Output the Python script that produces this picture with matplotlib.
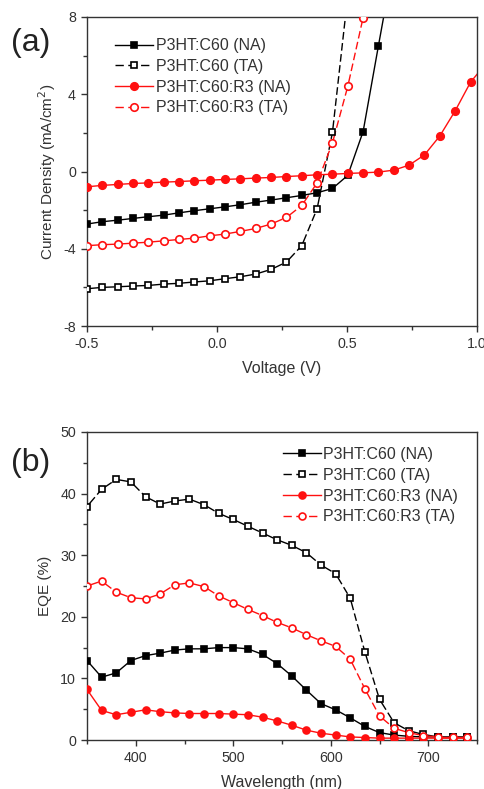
import matplotlib
matplotlib.use("Agg")
import matplotlib.pyplot as plt
from matplotlib.ticker import MultipleLocator
from matplotlib.lines import Line2D

plt.rcParams['font.family'] = ['Liberation Sans', 'DejaVu Sans']

# ---------------- Panel (a): J-V ----------------
voltage = [-0.5, -0.441, -0.382, -0.323, -0.264, -0.205, -0.146, -0.087, -0.028,
           0.031, 0.09, 0.149, 0.208, 0.267, 0.326, 0.385, 0.444, 0.503, 0.562,
           0.621, 0.68, 0.739, 0.798, 0.857, 0.916, 0.975, 1.034]

jv_c60_na = [-2.72, -2.60, -2.52, -2.43, -2.34, -2.26, -2.14, -2.03, -1.93, -1.83,
             -1.72, -1.59, -1.48, -1.36, -1.24, -1.10, -0.88, -0.20, 2.07, 6.52, 10.9]
jv_c60_ta = [-6.07, -6.00, -5.97, -5.93, -5.90, -5.83, -5.79, -5.72, -5.66, -5.55,
             -5.45, -5.31, -5.07, -4.69, -3.84, -1.93, 2.02, 9.1]
jv_r3_na = [-0.79, -0.72, -0.67, -0.62, -0.59, -0.55, -0.52, -0.48, -0.45, -0.41,
            -0.38, -0.34, -0.31, -0.26, -0.22, -0.17, -0.14, -0.10, -0.07, -0.03,
            0.07, 0.33, 0.86, 1.84, 3.14, 4.62, 5.59]
jv_r3_ta = [-3.84, -3.79, -3.76, -3.71, -3.66, -3.59, -3.52, -3.45, -3.33, -3.24,
            -3.10, -2.95, -2.72, -2.38, -1.76, -0.59, 1.48, 4.41, 7.97, 12.0]

# ---------------- Panel (b): EQE ----------------
wavelength = [350, 365, 380, 395, 410, 425, 440, 455, 470, 485, 500, 515, 530, 545,
              560, 575, 590, 605, 620, 635, 650, 665, 680, 695, 710, 725, 740]
eqe_c60_na = [12.9, 10.2, 10.9, 12.9, 13.7, 14.1, 14.6, 14.8, 14.8, 15.0, 15.0, 14.8,
              13.9, 12.4, 10.4, 8.1, 5.9, 4.9, 3.6, 2.2, 1.2, 0.8, 0.6, 0.5, 0.5, 0.5, 0.5]
eqe_c60_ta = [37.9, 40.7, 42.3, 41.9, 39.5, 38.3, 38.8, 39.1, 38.2, 36.8, 35.8, 34.7,
              33.6, 32.5, 31.6, 30.4, 28.4, 27.0, 23.0, 14.3, 6.6, 2.8, 1.5, 0.9, 0.5, 0.5, 0.5]
eqe_r3_na = [8.2, 4.8, 4.1, 4.5, 4.9, 4.6, 4.4, 4.3, 4.3, 4.3, 4.2, 4.1, 3.7, 3.1,
             2.4, 1.6, 1.1, 0.8, 0.5, 0.4, 0.3, 0.3, 0.3, 0.3, 0.3, 0.3, 0.3]
eqe_r3_ta = [25.0, 25.8, 24.0, 23.1, 22.9, 23.7, 25.2, 25.5, 24.9, 23.4, 22.3, 21.2,
             20.2, 19.1, 18.2, 17.1, 16.1, 15.2, 13.1, 8.3, 3.9, 1.9, 1.2, 0.7, 0.5, 0.5, 0.5]

labels = ['P3HT:C60 (NA)', 'P3HT:C60 (TA)', 'P3HT:C60:R3 (NA)', 'P3HT:C60:R3 (TA)']

RED = '#ff1010'
TXT = '#333333'
# long first dash so short segments look solid, then regular dashes
SEG_DASH = (0, (8.8, 2.5) + (5.5, 2.5) * 12)
LEG_DASH = (0, (6, 3.2))

fig = plt.figure(figsize=(4.84, 7.89), dpi=100)
W, H = 484, 789


def add_axes_px(left, top, right, bottom):
    return fig.add_axes([left / W, 1 - bottom / H, (right - left) / W, (bottom - top) / H])


def style_axes(ax):
    for s in ax.spines.values():
        s.set_color('#333333')
        s.set_linewidth(1.0)
    ax.tick_params(which='both', direction='out', top=False, right=False,
                   colors='#333333', labelcolor=TXT, labelsize=10.3)
    ax.tick_params(which='major', length=4.5, width=1.0)
    ax.tick_params(which='minor', length=3, width=1.0)


def series(ax, x, y, color, marker, filled, dashed, ms):
    n = len(y)
    xs = x[:n]
    if dashed:
        for i in range(n - 1):
            ax.plot(xs[i:i + 2], y[i:i + 2], color=color, lw=1.0,
                    linestyle=SEG_DASH, zorder=2)
    else:
        ax.plot(xs, y, color=color, lw=1.0, zorder=2)
    ax.plot(xs, y, linestyle='none', marker=marker, markersize=ms,
            markerfacecolor=color if filled else 'white',
            markeredgecolor=color, markeredgewidth=1.2, zorder=3)


def legend_handles(ms_sq, ms_ci):
    return [
        Line2D([], [], color='black', lw=1.0, marker='s', markersize=ms_sq,
               markerfacecolor='black', markeredgecolor='black', markeredgewidth=1.2),
        Line2D([], [], color='black', lw=1.0, linestyle=LEG_DASH, marker='s',
               markersize=ms_sq, markerfacecolor='white', markeredgecolor='black',
               markeredgewidth=1.2),
        Line2D([], [], color=RED, lw=1.0, marker='o', markersize=ms_ci,
               markerfacecolor=RED, markeredgecolor=RED, markeredgewidth=1.2),
        Line2D([], [], color=RED, lw=1.0, linestyle=LEG_DASH, marker='o',
               markersize=ms_ci, markerfacecolor='white', markeredgecolor=RED,
               markeredgewidth=1.2),
    ]


# ---- (a)
ax1 = add_axes_px(87, 17, 477, 326)
series(ax1, voltage, jv_c60_na, 'black', 's', True, False, 4.8)
series(ax1, voltage, jv_c60_ta, 'black', 's', False, True, 4.8)
series(ax1, voltage, jv_r3_na, RED, 'o', True, False, 5.4)
series(ax1, voltage, jv_r3_ta, RED, 'o', False, True, 5.4)
ax1.set_xlim(-0.5, 1.0)
ax1.set_ylim(-8, 8)
ax1.xaxis.set_minor_locator(MultipleLocator(0.25))
ax1.yaxis.set_minor_locator(MultipleLocator(2))
ax1.set_xticks([-0.5, 0.0, 0.5, 1.0])
ax1.set_xticklabels(['-0.5', '0.0', '0.5', '1.0'])
ax1.set_yticks([-8, -4, 0, 4, 8])
ax1.set_yticklabels(['-8', '-4', '0', '4', '8'])
style_axes(ax1)
ax1.set_xlabel('Voltage (V)', fontsize=11.5, color=TXT, labelpad=7)
ax1.set_ylabel('Current Density (mA/cm$^2$)', fontsize=11, color=TXT, labelpad=4)
leg1 = ax1.legend(legend_handles(4.8, 5.4), labels, loc='upper left',
                  bbox_to_anchor=(0.055, 0.952), frameon=False,
                  fontsize=11.5, handlelength=2.4, handletextpad=0.15,
                  labelspacing=0.36, borderaxespad=0)
for t in leg1.get_texts():
    t.set_color(TXT)
fig.text(11 / W, 1 - 43 / H, '(a)', fontsize=23, color='#222222', va='center', ha='left')

# ---- (b)
ax2 = add_axes_px(87, 432, 477, 740)
series(ax2, wavelength, eqe_c60_na, 'black', 's', True, False, 4.4)
series(ax2, wavelength, eqe_c60_ta, 'black', 's', False, True, 4.4)
series(ax2, wavelength, eqe_r3_na, RED, 'o', True, False, 5.0)
series(ax2, wavelength, eqe_r3_ta, RED, 'o', False, True, 5.0)
ax2.set_xlim(350, 750)
ax2.set_ylim(0, 50)
ax2.xaxis.set_minor_locator(MultipleLocator(50))
ax2.yaxis.set_minor_locator(MultipleLocator(5))
ax2.set_xticks([400, 500, 600, 700])
ax2.set_yticks([0, 10, 20, 30, 40, 50])
style_axes(ax2)
ax2.set_xlabel('Wavelength (nm)', fontsize=11.5, color=TXT, labelpad=7)
ax2.set_ylabel('EQE (%)', fontsize=11, color=TXT, labelpad=6)
leg2 = ax2.legend(legend_handles(4.4, 5.0), labels, loc='upper left',
                  bbox_to_anchor=(0.485, 0.972), frameon=False,
                  fontsize=11.5, handlelength=2.4, handletextpad=0.15,
                  labelspacing=0.36, borderaxespad=0)
for t in leg2.get_texts():
    t.set_color(TXT)
fig.text(11 / W, 1 - 463 / H, '(b)', fontsize=23, color='#222222', va='center', ha='left')

fig.savefig('out.png', dpi=100)
